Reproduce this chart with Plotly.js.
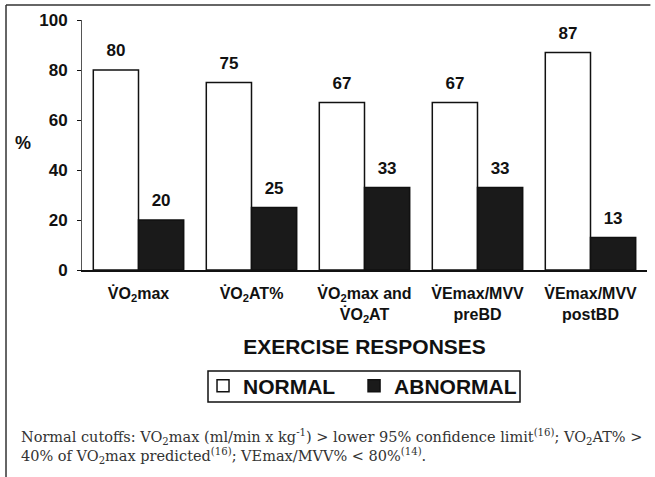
<!DOCTYPE html>
<html>
<head>
<meta charset="utf-8">
<script src="https://cdn.plot.ly/plotly-3.0.1.min.js"></script>
<style>html,body{margin:0;padding:0;background:#fff;}#chart{width:655px;height:477px;}</style>
</head>
<body>
<div id="chart"></div>
<script>
const categories = [
  "V\u0307O<sub>2</sub>max",
  "V\u0307O<sub>2</sub>AT%",
  "V\u0307O<sub>2</sub>max and<br>V\u0307O<sub>2</sub>AT",
  "V\u0307Emax/MVV<br>preBD",
  "V\u0307Emax/MVV<br>postBD"
];
const normalValues = [80, 75, 67, 67, 87];
const abnormalValues = [20, 25, 33, 33, 13];
const seriesNames = ["NORMAL", "ABNORMAL"];
const yTicks = [0, 20, 40, 60, 80, 100];
const xTitle = "EXERCISE RESPONSES";
const yTitle = "%";
const caption = "Normal cutoffs: VO<sub>2</sub>max (ml/min x kg<sup>-1</sup>) > lower 95% confidence limit<sup>(16)</sup>; VO<sub>2</sub>AT% ><br>40% of VO<sub>2</sub>max predicted<sup>(16)</sup>; VEmax/MVV% < 80%<sup>(14)</sup>.";

const sans = "Liberation Sans, Arial, sans-serif";
const boldFont = (s) => ({family: sans, size: s, color: "#111", weight: "bold"});

const barTrace = (name, values, fill, legendId) => ({
  type: "bar", name: name, x: categories, y: values, legend: legendId,
  marker: {color: fill, line: {color: "#111", width: 1.5}},
  hoverinfo: "skip"
});
const labelTrace = (values) => ({
  type: "scatter", mode: "markers+text", x: categories, y: values,
  text: values.map(String), textposition: "top center", textfont: boldFont(17),
  marker: {size: 14, color: "rgba(0,0,0,0)"}, showlegend: false, cliponaxis: false,
  hoverinfo: "skip"
});

const traces = [
  barTrace(seriesNames[0], normalValues, "#ffffff", "legend"),
  barTrace(seriesNames[1], abnormalValues, "#1a1a1a", "legend2"),
  labelTrace(normalValues),
  labelTrace(abnormalValues)
];

const legendBase = (xPos) => ({
  orientation: "h", x: xPos, xanchor: "left", y: -0.464, yanchor: "middle",
  xref: "paper", yref: "paper",
  font: boldFont(21), borderwidth: 0, bgcolor: "rgba(0,0,0,0)"
});

const layout = {
  width: 655, height: 477,
  margin: {l: 82, r: 8, t: 20, b: 207},
  paper_bgcolor: "#fff", plot_bgcolor: "#fff",
  barmode: "group", bargap: 0.2, bargroupgap: 0,
  scattermode: "group", scattergap: 0.2,
  showlegend: true,
  legend: legendBase(0.2142),
  legend2: legendBase(0.4815),
  xaxis: {
    type: "category", range: [-0.5, 4.5], showline: true, linecolor: "#111", linewidth: 1.5,
    ticks: "", tickfont: boldFont(16), ticklabelstandoff: 8, showgrid: false, zeroline: false, automargin: false,
    title: {text: xTitle, font: boldFont(21), standoff: 15}
  },
  yaxis: {
    range: [0, 100], tickvals: yTicks, showline: true, linecolor: "#555", linewidth: 1,
    ticks: "outside", ticklen: 4, tickcolor: "#111", tickfont: boldFont(17), ticklabelstandoff: 6,
    showgrid: false, zeroline: false, automargin: false
  },
  shapes: [
    {type: "line", xref: "paper", yref: "paper", x0: -0.1345, x1: 1.006, y0: 1.06, y1: 1.06, line: {color: "#333", width: 1.5}},
    {type: "line", xref: "paper", yref: "paper", x0: -0.1345, x1: -0.1345, y0: 1.06, y1: -0.83, line: {color: "#333", width: 1.5}},
    {type: "rect", xref: "paper", yref: "paper", x0: (208 - 82) / 565, x1: (520 - 82) / 565, y0: (270 - 371) / 250, y1: (270 - 402) / 250, line: {color: "#111", width: 1.5}, fillcolor: "rgba(0,0,0,0)"}
  ],
  annotations: [
    {text: yTitle, xref: "paper", yref: "paper", x: -0.105, y: 0.51, showarrow: false, font: boldFont(18), xanchor: "center", yanchor: "middle"},
    {text: caption, xref: "paper", yref: "paper", x: -0.111, y: -0.62, xanchor: "left", yanchor: "top", align: "left", showarrow: false,
     font: {family: "DejaVu Serif, serif", size: 14.5, color: "#333"}}
  ]
};

Plotly.newPlot("chart", traces, layout, {displayModeBar: false, staticPlot: true});
</script>
</body>
</html>
